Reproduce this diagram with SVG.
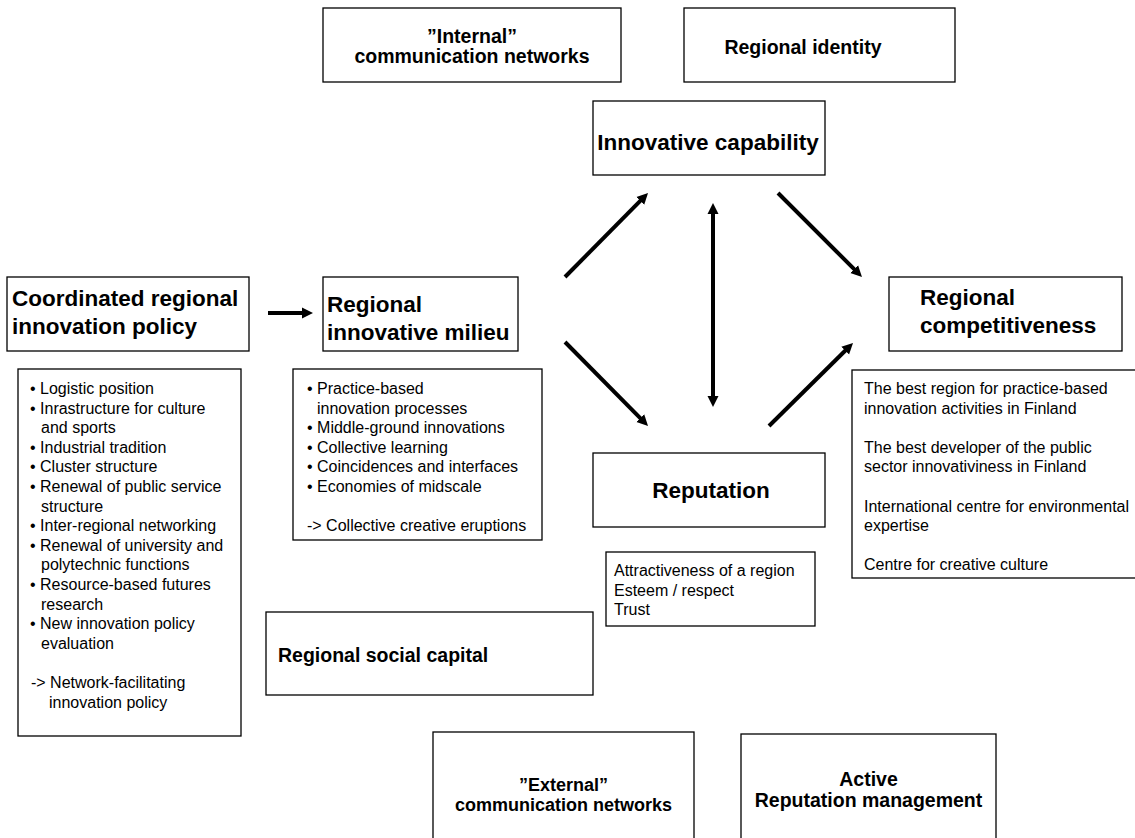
<svg xmlns="http://www.w3.org/2000/svg" width="1135" height="838" viewBox="0 0 1135 838">
<style>
.box{fill:#fff;stroke:#000;stroke-width:1.3}
.t1{font-family:"Liberation Sans",Arial,Helvetica,sans-serif;font-weight:bold;font-size:22.5px;fill:#000}
.t2{font-family:"Liberation Sans",Arial,Helvetica,sans-serif;font-weight:bold;font-size:19.5px;fill:#000}
.t3{font-family:"Liberation Sans",Arial,Helvetica,sans-serif;font-weight:bold;font-size:18px;fill:#000}
.b{font-family:"Liberation Sans",Arial,Helvetica,sans-serif;font-size:16px;fill:#000}
.mid{text-anchor:middle}
.con{stroke:#000;stroke-width:4;fill:none}
</style>
<defs>
<marker id="ah" markerUnits="userSpaceOnUse" markerWidth="14" markerHeight="14" viewBox="0 -7 14 14" refX="1" refY="0" orient="auto-start-reverse">
<path d="M0,-5.5 L11,0 L0,5.5 z" fill="#000"/>
</marker>
</defs>
<rect width="1135" height="838" fill="#fff"/>

<g id="internal-networks">
<rect class="box" x="323" y="8" width="298" height="74"/>
<text class="t2 mid" x="472" y="43">”Internal”</text>
<text class="t2 mid" x="472" y="63">communication networks</text>
</g>

<g id="regional-identity">
<rect class="box" x="684" y="8" width="271" height="74"/>
<text class="t2 mid" x="803" y="54">Regional identity</text>
</g>

<g id="innovative-capability">
<rect class="box" x="593" y="101" width="232" height="74"/>
<text class="t1 mid" x="708" y="150">Innovative capability</text>
</g>

<g id="coordinated-policy">
<rect class="box" x="7" y="277" width="242" height="74"/>
<text class="t1" x="12" y="306">Coordinated regional</text>
<text class="t1" x="12" y="334">innovation policy</text>
</g>

<g id="policy-list">
<rect class="box" x="18" y="369" width="223" height="367"/>
<text class="b">
<tspan x="30" y="394">• Logistic position</tspan>
<tspan x="30" y="413.6">• Inrastructure for culture</tspan>
<tspan x="41" y="433.2">and sports</tspan>
<tspan x="30" y="452.8">• Industrial tradition</tspan>
<tspan x="30" y="472.4">• Cluster structure</tspan>
<tspan x="30" y="492">• Renewal of public service</tspan>
<tspan x="41" y="511.6">structure</tspan>
<tspan x="30" y="531.2">• Inter-regional networking</tspan>
<tspan x="30" y="550.8">• Renewal of university and</tspan>
<tspan x="41" y="570.4">polytechnic functions</tspan>
<tspan x="30" y="590">• Resource-based futures</tspan>
<tspan x="41" y="609.6">research</tspan>
<tspan x="30" y="629.2">• New innovation policy</tspan>
<tspan x="41" y="648.8">evaluation</tspan>
<tspan x="31" y="688">-&gt; Network-facilitating</tspan>
<tspan x="49" y="707.6">innovation policy</tspan>
</text>
</g>

<g id="innovative-milieu">
<rect class="box" x="323" y="277" width="195" height="74"/>
<text class="t1" x="327" y="312">Regional</text>
<text class="t1" x="327" y="340">innovative milieu</text>
</g>

<g id="milieu-list">
<rect class="box" x="293" y="369" width="249" height="171"/>
<text class="b">
<tspan x="307" y="394">• Practice-based</tspan>
<tspan x="317" y="413.6">innovation processes</tspan>
<tspan x="307" y="433.2">• Middle-ground innovations</tspan>
<tspan x="307" y="452.8">• Collective learning</tspan>
<tspan x="307" y="472.4">• Coincidences and interfaces</tspan>
<tspan x="307" y="492">• Economies of midscale</tspan>
<tspan x="307" y="531.2">-&gt; Collective creative eruptions</tspan>
</text>
</g>

<g id="regional-competitiveness">
<rect class="box" x="889" y="277" width="233" height="74"/>
<text class="t1" x="920" y="305">Regional</text>
<text class="t1" x="920" y="333">competitiveness</text>
</g>

<g id="competitiveness-list">
<rect class="box" x="852" y="370" width="290" height="208"/>
<text class="b">
<tspan x="864" y="394">The best region for practice-based</tspan>
<tspan x="864" y="413.6">innovation activities in Finland</tspan>
<tspan x="864" y="452.8">The best developer of the public</tspan>
<tspan x="864" y="472.4">sector innovativiness in Finland</tspan>
<tspan x="864" y="511.6">International centre for environmental</tspan>
<tspan x="864" y="531.2">expertise</tspan>
<tspan x="864" y="570.4">Centre for creative culture</tspan>
</text>
</g>

<g id="reputation">
<rect class="box" x="593" y="453" width="232" height="74"/>
<text class="t1 mid" x="711" y="498">Reputation</text>
</g>

<g id="reputation-list">
<rect class="box" x="606" y="552" width="209" height="74"/>
<text class="b">
<tspan x="614" y="576">Attractiveness of a region</tspan>
<tspan x="614" y="595.6">Esteem / respect</tspan>
<tspan x="614" y="615.2">Trust</tspan>
</text>
</g>

<g id="social-capital">
<rect class="box" x="266" y="612" width="327" height="83"/>
<text class="t2" x="278" y="662">Regional social capital</text>
</g>

<g id="external-networks">
<rect class="box" x="433" y="732" width="261" height="120"/>
<text class="t3 mid" x="563.5" y="791">”External”</text>
<text class="t3 mid" x="563.5" y="811">communication networks</text>
</g>

<g id="reputation-management">
<rect class="box" x="741" y="734" width="255" height="120"/>
<text class="t2 mid" x="868.5" y="786">Active</text>
<text class="t2 mid" x="868.5" y="807">Reputation management</text>
</g>

<g id="connectors">
<line class="con" x1="268" y1="313" x2="303" y2="313" marker-end="url(#ah)"/>
<line class="con" x1="565" y1="277" x2="641" y2="200.1" marker-end="url(#ah)"/>
<line class="con" x1="778" y1="193" x2="854.9" y2="269.9" marker-end="url(#ah)"/>
<line class="con" x1="565" y1="342" x2="641" y2="418.9" marker-end="url(#ah)"/>
<line class="con" x1="769" y1="426" x2="845.9" y2="350" marker-end="url(#ah)"/>
<line class="con" x1="713" y1="213" x2="713" y2="397" stroke-width="4.5" marker-start="url(#ah)" marker-end="url(#ah)"/>
</g>
</svg>
